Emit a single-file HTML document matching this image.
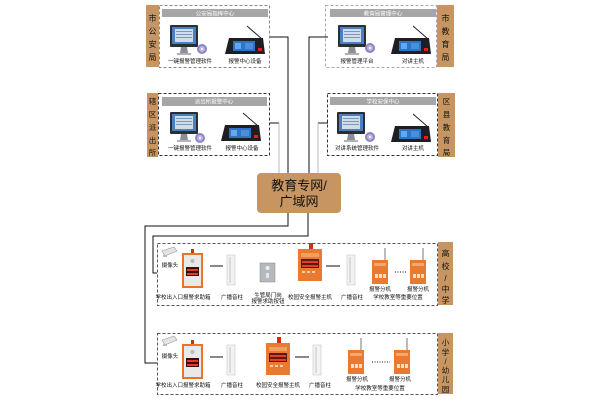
<!DOCTYPE html>
<html><head><meta charset="utf-8"><style>
html,body{margin:0;padding:0;background:#fff;width:600px;height:400px;overflow:hidden}
svg{display:block}
text{font-family:"Liberation Sans","Noto Sans CJK SC",sans-serif}
</style></head><body>
<svg width="600" height="400" viewBox="0 0 600 400" xmlns="http://www.w3.org/2000/svg">
<defs>
<g id="mon">
  <rect x="0" y="0" width="28" height="22" rx="1" fill="#2a2f36"/>
  <rect x="2" y="2" width="24" height="17" fill="#4a7fc0"/>
  <rect x="5" y="4" width="18" height="13" fill="#cfdcec"/>
  <rect x="6" y="6" width="16" height="1" fill="#7f98b8"/>
  <rect x="6" y="9" width="16" height="1" fill="#7f98b8"/>
  <rect x="6" y="12" width="16" height="1" fill="#7f98b8"/>
  <path d="M11 22 L17 22 L18 28 L10 28 Z" fill="#8a8f96"/>
  <rect x="7" y="28" width="14" height="2" fill="#b0b4ba"/>
</g>
<g id="disc">
  <circle cx="0" cy="0" r="5" fill="#8a86c4"/>
  <circle cx="0" cy="0" r="3" fill="#b9b6e0"/>
  <circle cx="0" cy="0" r="1" fill="#fff"/>
</g>
<g id="phone">
  <path d="M37 3 L22 -10" stroke="#222" stroke-width="1"/>
  <path d="M4 2 L38 2 L40 18 L0 18 Z" fill="#1e1f22"/>
  <rect x="8" y="5" width="22" height="10" fill="#2f74c8"/>
  <rect x="10" y="7" width="6" height="6" fill="#62a9ea"/>
  <rect x="20" y="7" width="8" height="6" fill="#4b8fd8"/>
  <rect x="33" y="12" width="4" height="3" fill="#e02020"/>
</g>
<g id="alarm">
  <rect x="9" y="-3" width="3" height="4" fill="#d62a1a"/>
  <rect x="0" y="1" width="21" height="35" fill="#e8742a"/>
  <rect x="2" y="3" width="17" height="31" fill="#e9e9e9"/>
  <rect x="4" y="15" width="13" height="9" fill="#3a0d0d"/>
  <rect x="5" y="17" width="11" height="2" fill="#e53a2a"/>
  <rect x="5" y="21" width="11" height="2" fill="#e53a2a"/>
  <circle cx="10.5" cy="9" r="2" fill="#bcbcbc"/>
</g>
<g id="host">
  <rect x="11" y="-4" width="4" height="6" fill="#d62a1a"/>
  <rect x="0" y="2" width="24" height="32" fill="#ea7a30"/>
  <rect x="3" y="6" width="18" height="4" fill="#f0a060"/>
  <rect x="3" y="12" width="18" height="9" fill="#5a1a10"/>
  <rect x="4" y="14" width="16" height="2" fill="#e04028"/>
  <rect x="4" y="18" width="16" height="2" fill="#e04028"/>
  <rect x="4" y="24" width="3" height="2" fill="#fbd0b0"/>
  <rect x="9" y="24" width="3" height="2" fill="#fbd0b0"/>
  <rect x="14" y="24" width="3" height="2" fill="#fbd0b0"/>
</g>
<g id="spk">
  <rect x="0" y="0" width="8" height="30" fill="#f2f2f2" stroke="#c8c8c8" stroke-width="0.6"/>
  <rect x="2" y="2" width="2" height="26" fill="#dcdcdc"/>
</g>
<g id="sub">
  <line x1="13" y1="-12" x2="13" y2="0" stroke="#555" stroke-width="0.8"/>
  <rect x="0" y="0" width="16" height="24" fill="#ea7a30"/>
  <rect x="2" y="3" width="12" height="3" fill="#f4a870"/>
  <rect x="3" y="14" width="3" height="4" fill="#fce0cc"/>
  <rect x="7" y="14" width="3" height="4" fill="#fce0cc"/>
  <rect x="11" y="14" width="3" height="4" fill="#fce0cc"/>
</g>
<g id="cam">
  <path d="M0 4 L12 0 L15 4 L3 9 Z" fill="#e4e4e4" stroke="#999" stroke-width="0.6"/>
  <rect x="1" y="8" width="4" height="2" fill="#bbb"/>
</g>
</defs>

<!-- connector lines -->
<g fill="none" stroke-width="1">
  <polyline points="270,37 288,37 288,173" stroke="#111"/>
  <polyline points="328,37 309,37 309,173" stroke="#111"/>
  <polyline points="269,123 279,123" stroke="#111"/>
  <line x1="279" y1="123" x2="279" y2="173" stroke="#bbb"/>
  <polyline points="328,123 318,123" stroke="#111"/>
  <line x1="318" y1="123" x2="318" y2="173" stroke="#bbb"/>
  <polyline points="288,213 288,226 145,226 145,363 157,363" stroke="#111"/>
  <polyline points="308,213 308,236 153,236 153,273 157,273" stroke="#111"/>
</g>

<!-- top-left: 市公安局 -->
<rect x="146" y="5" width="13" height="62" fill="#c69561"/>
<g font-size="8" fill="#111" text-anchor="middle">
<text x="152.5" y="21">市</text><text x="152.5" y="34">公</text><text x="152.5" y="47">安</text><text x="152.5" y="60">局</text>
</g>
<rect x="159.5" y="5.5" width="110" height="62" fill="none" stroke="#888" stroke-dasharray="3,2"/>
<rect x="162" y="9" width="106" height="8" fill="#a6a6a6"/>
<text x="215" y="15.5" font-size="5.5" fill="#fff" text-anchor="middle">公安局指挥中心</text>
<use href="#mon" x="170" y="25"/>
<use href="#disc" x="202" y="49"/>
<use href="#phone" x="225" y="36"/>
<text x="190" y="63" font-size="5.5" fill="#111" text-anchor="middle">一键报警管理软件</text>
<text x="245" y="63" font-size="5.5" fill="#111" text-anchor="middle">报警中心设备</text>

<!-- top-right: 市教育局 -->
<rect x="437" y="5" width="17" height="62" fill="#c69561"/>
<g font-size="8" fill="#111" text-anchor="middle">
<text x="445.5" y="21">市</text><text x="445.5" y="34">教</text><text x="445.5" y="47">育</text><text x="445.5" y="60">局</text>
</g>
<rect x="325.5" y="5.5" width="111" height="62" fill="none" stroke="#aaa" stroke-dasharray="3,2"/>
<rect x="330" y="9" width="106" height="8" fill="#a6a6a6"/>
<text x="383" y="15.5" font-size="5.5" fill="#fff" text-anchor="middle">教育局管理中心</text>
<use href="#mon" x="338" y="25"/>
<use href="#disc" x="370" y="48"/>
<use href="#phone" x="391" y="36"/>
<text x="357" y="63" font-size="5.5" fill="#111" text-anchor="middle">报警管理平台</text>
<text x="413" y="63" font-size="5.5" fill="#111" text-anchor="middle">对讲主机</text>

<!-- second-left: 辖区派出所 -->
<rect x="147" y="93" width="11" height="64" fill="#c69561"/>
<g font-size="7.5" fill="#111" text-anchor="middle">
<text x="152.5" y="104">辖</text><text x="152.5" y="117">区</text><text x="152.5" y="130">派</text><text x="152.5" y="143">出</text><text x="152.5" y="155">所</text>
</g>
<rect x="158.5" y="93.5" width="111" height="62" fill="none" stroke="#333" stroke-dasharray="3,2"/>
<rect x="162" y="97" width="105" height="9" fill="#a6a6a6"/>
<text x="214" y="103.5" font-size="5.5" fill="#fff" text-anchor="middle">派出所报警中心</text>
<use href="#mon" x="170" y="112"/>
<use href="#disc" x="200" y="138"/>
<use href="#phone" x="221" y="123"/>
<text x="190" y="150" font-size="5.5" fill="#111" text-anchor="middle">一键报警管理软件</text>
<text x="242" y="150" font-size="5.5" fill="#111" text-anchor="middle">报警中心设备</text>

<!-- second-right: 区县教育局 -->
<rect x="438" y="93" width="17" height="64" fill="#c69561"/>
<g font-size="7.5" fill="#111" text-anchor="middle">
<text x="446.5" y="104">区</text><text x="446.5" y="117">县</text><text x="446.5" y="130">教</text><text x="446.5" y="143">育</text><text x="446.5" y="155">局</text>
</g>
<rect x="327.5" y="93.5" width="110" height="62" fill="none" stroke="#333" stroke-dasharray="3,2"/>
<rect x="330" y="97" width="106" height="8" fill="#a6a6a6"/>
<text x="383" y="103.5" font-size="5.5" fill="#fff" text-anchor="middle">学校安保中心</text>
<use href="#mon" x="337" y="112"/>
<use href="#disc" x="370" y="137"/>
<use href="#phone" x="391" y="124"/>
<text x="357" y="150" font-size="5.5" fill="#111" text-anchor="middle">对讲系统管理软件</text>
<text x="413" y="150" font-size="5.5" fill="#111" text-anchor="middle">对讲主机</text>

<!-- network box -->
<rect x="257" y="173" width="84" height="40" rx="4" fill="#c69561"/>
<text x="299" y="190" font-size="13" fill="#111" text-anchor="middle">教育专网/</text>
<text x="299" y="206" font-size="13" fill="#111" text-anchor="middle">广域网</text>

<!-- school 1: 高校/中学 -->
<rect x="157.5" y="243.5" width="280" height="62" fill="none" stroke="#555" stroke-dasharray="3,2"/>
<rect x="438" y="242" width="15" height="63" fill="#c69561"/>
<g font-size="8" fill="#111" text-anchor="middle">
<text x="445.5" y="256">高</text><text x="445.5" y="269">校</text><text x="445.5" y="281">/</text><text x="445.5" y="292">中</text><text x="445.5" y="303">学</text>
</g>
<use href="#cam" x="162" y="247"/>
<text x="170" y="267" font-size="5.5" fill="#111" text-anchor="middle">摄像头</text>
<use href="#alarm" x="182" y="252"/>
<line x1="210" y1="266" x2="223" y2="266" stroke="#111"/>
<use href="#spk" x="227" y="255"/>
<rect x="260" y="263" width="15" height="19" fill="#b5b8bc" stroke="#888" stroke-width="0.5"/>
<circle cx="267.5" cy="268" r="2" fill="#eee"/>
<rect x="266" y="273" width="3" height="5" fill="#e6e6e6"/>
<use href="#host" x="298" y="247"/>
<line x1="326" y1="266" x2="340" y2="266" stroke="#111"/>
<use href="#spk" x="347" y="255"/>
<use href="#sub" x="372" y="260"/>
<line x1="395" y1="272" x2="407" y2="272" stroke="#111" stroke-dasharray="1,1.5"/>
<use href="#sub" x="410" y="260"/>
<g font-size="5.5" fill="#111" text-anchor="middle">
<text x="183" y="299">学校出入口报警求助箱</text>
<text x="232" y="299">广播音柱</text>
<text x="268" y="297">生管局门岗</text>
<text x="268" y="303">报警求助按钮</text>
<text x="310" y="299">校园安全报警主机</text>
<text x="352" y="299">广播音柱</text>
<text x="380" y="291">报警分机</text>
<text x="418" y="291">报警分机</text>
<text x="398" y="299">学校教室等重要位置</text>
</g>

<!-- school 2: 小学/幼儿园 -->
<rect x="157.5" y="333.5" width="280" height="61" fill="none" stroke="#555" stroke-dasharray="3,2"/>
<rect x="438" y="333" width="15" height="61" fill="#c69561"/>
<g font-size="7.5" fill="#111" text-anchor="middle">
<text x="445.5" y="345">小</text><text x="445.5" y="355">学</text><text x="445.5" y="364">/</text><text x="445.5" y="373">幼</text><text x="445.5" y="382">儿</text><text x="445.5" y="392">园</text>
</g>
<use href="#cam" x="162" y="336"/>
<text x="170" y="358" font-size="5.5" fill="#111" text-anchor="middle">摄像头</text>
<use href="#alarm" x="182" y="343"/>
<line x1="210" y1="357" x2="223" y2="357" stroke="#111"/>
<use href="#spk" x="227" y="345"/>
<use href="#host" x="266" y="341"/>
<line x1="295" y1="357" x2="309" y2="357" stroke="#111"/>
<use href="#spk" x="313" y="345"/>
<use href="#sub" x="348" y="350"/>
<line x1="372" y1="362" x2="390" y2="362" stroke="#111" stroke-dasharray="1,1.5"/>
<use href="#sub" x="394" y="350"/>
<g font-size="5.5" fill="#111" text-anchor="middle">
<text x="183" y="387">学校出入口报警求助箱</text>
<text x="232" y="387">广播音柱</text>
<text x="278" y="387">校园安全报警主机</text>
<text x="320" y="387">广播音柱</text>
<text x="357" y="381">报警分机</text>
<text x="400" y="381">报警分机</text>
<text x="380" y="390">学校教室等重要位置</text>
</g>
</svg>
</body></html>
